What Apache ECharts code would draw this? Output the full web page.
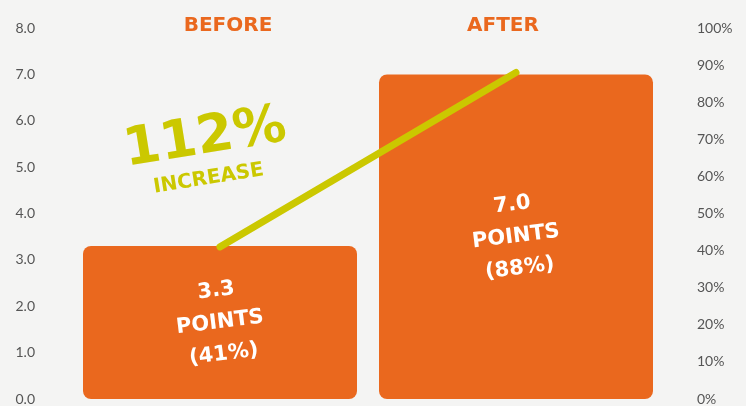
<!DOCTYPE html>
<html style="height: 100%">
    <head>
        <meta charset="utf-8">
    </head>
    <body style="height: 100%; margin: 0">
        <div id="container" style="height: 100%"></div>

        <script type="text/javascript" src="https://cdn.jsdelivr.net/npm/echarts@6/dist/echarts.min.js"></script>
        <script type="text/javascript">
var dom = document.getElementById("container");
var myChart = echarts.init(dom);

var categories = ['BEFORE', 'AFTER'];
var points = [3.3, 7.0];
var percents = [41, 88];

var orange = '#EA681E';
var lime = '#CBC800';
var comic = '"DejaVu Sans", sans-serif';

var increase = Math.round((points[1] / points[0] - 1) * 100);

var headStyle = {
    color: orange,
    fontFamily: comic,
    fontWeight: 'bold',
    fontSize: 20
};

var option = {
    backgroundColor: '#f4f4f3',
    grid: {
        left: 72,
        right: 82,
        top: 28,
        bottom: 5
    },
    xAxis: {
        type: 'category',
        position: 'top',
        data: categories,
        axisLine: { show: false },
        axisTick: { show: false },
        axisLabel: {
            margin: -8,
            formatter: function (v, i) {
                return i === 0 ? '{a|' + v + '}' : '{b|' + v + '}';
            },
            rich: {
                a: Object.assign({ padding: [0, 0, 0, 16] }, headStyle),
                b: Object.assign({ padding: [0, 26, 0, 0] }, headStyle)
            }
        }
    },
    yAxis: [
        {
            type: 'value',
            min: 0,
            max: 8,
            interval: 1,
            splitLine: { show: false },
            axisLabel: {
                margin: 37,
                color: '#555',
                fontFamily: 'Lato',
                fontSize: 14,
                formatter: function (v) { return v.toFixed(1); }
            }
        },
        {
            type: 'value',
            min: 0,
            max: 100,
            interval: 10,
            splitLine: { show: false },
            axisLabel: {
                margin: 33,
                color: '#555',
                fontFamily: 'Lato',
                fontSize: 14,
                formatter: '{value}%'
            }
        }
    ],
    graphic: [
        {
            type: 'text',
            left: 120,
            top: 100,
            rotation: 0.16,
            style: {
                text: increase + '%',
                fill: lime,
                font: 'bold 53px "DejaVu Sans", sans-serif'
            }
        },
        {
            type: 'text',
            left: 152,
            top: 160,
            rotation: 0.16,
            style: {
                text: 'INCREASE',
                fill: lime,
                font: 'bold 20px "DejaVu Sans", sans-serif'
            }
        }
    ],
    series: [
        {
            type: 'bar',
            data: points,
            barWidth: 274,
            itemStyle: {
                color: orange,
                borderRadius: 8
            },
            label: {
                show: true,
                position: 'inside',
                rotate: 7,
                color: '#fff',
                fontFamily: comic,
                fontWeight: 'bold',
                fontSize: 21,
                lineHeight: 32,
                formatter: function (p) {
                    return p.value.toFixed(1) + '\nPOINTS\n(' + percents[p.dataIndex] + '%)';
                }
            }
        },
        {
            type: 'line',
            yAxisIndex: 1,
            data: percents,
            symbol: 'none',
            z: 5,
            lineStyle: {
                color: lime,
                width: 7,
                cap: 'round'
            }
        }
    ]
};

myChart.setOption(option);
        </script>
    </body>
</html>
